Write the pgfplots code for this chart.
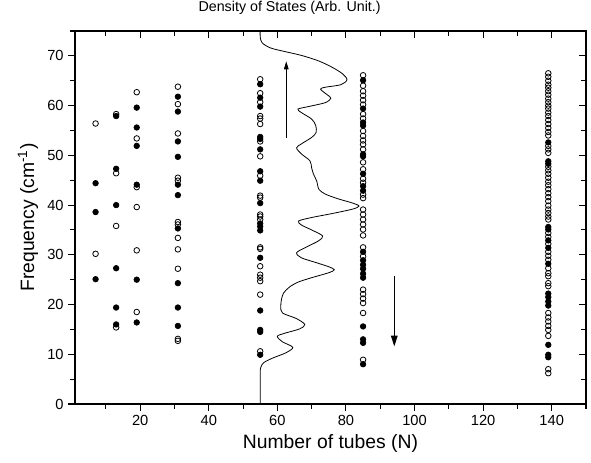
\documentclass[border=0pt]{standalone}
\usepackage{fontspec}
\setmainfont{Liberation Sans}
\usepackage{pgfplots}
\pgfplotsset{compat=1.18}
\usetikzlibrary{arrows.meta}

% frequencies of the modes, per number of tubes
\pgfplotstableread{
N f
7 44.4
7 38.6
7 25.1
13 57.9
13 47.3
13 40.0
13 27.3
13 19.4
13 16.0
19 59.6
19 55.6
19 51.9
19 44.1
19 25.0
19 16.4
31 61.8
31 58.8
31 52.8
31 49.7
31 44.1
31 42.0
31 35.3
31 24.3
31 19.4
31 15.7
55 64.3
55 61.6
55 59.8
55 53.7
55 53.3
55 51.2
55 46.8
55 44.9
55 40.4
55 36.3
55 35.7
55 34.9
55 29.4
55 18.8
55 14.9
55 14.5
55 9.9
85 65.1
85 59.4
85 56.6
85 56.0
85 50.2
85 49.8
85 46.3
85 43.8
85 42.9
85 30.6
85 28.9
85 28.0
85 27.2
85 26.2
85 25.4
85 15.6
85 13.0
85 12.3
85 8.0
139 52.6
139 48.8
139 48.3
139 35.6
139 35.1
139 32.9
139 31.4
139 28.2
139 22.2
139 21.5
139 20.6
139 19.8
139 11.9
139 9.9
139 9.4
}\filled

\pgfplotstableread{
N f
7 56.4
7 30.2
13 58.3
13 46.4
13 35.8
13 15.4
19 62.7
19 53.4
19 43.6
19 39.6
19 30.9
19 18.5
31 63.8
31 60.3
31 54.4
31 45.5
31 44.9
31 36.6
31 36.1
31 33.4
31 31.1
31 27.2
31 13.1
31 12.7
55 65.3
55 62.5
55 60.7
55 57.9
55 57.4
55 56.3
55 52.8
55 49.8
55 45.9
55 41.9
55 41.5
55 38.1
55 37.7
55 37.1
55 31.5
55 31.2
55 27.7
55 26.0
55 25.4
55 24.7
55 22.0
55 10.6
85 66.1
85 64.0
85 62.9
85 62.0
85 61.1
85 60.2
85 58.3
85 57.4
85 54.9
85 53.9
85 53.0
85 52.2
85 51.2
85 48.6
85 47.2
85 45.3
85 44.5
85 42.1
85 41.4
85 39.1
85 38.1
85 37.1
85 36.1
85 35.1
85 33.9
85 31.5
85 29.7
85 23.0
85 22.1
85 21.2
85 20.3
85 18.3
85 8.9
139 66.5
139 65.8
139 65.0
139 64.2
139 63.6
139 62.9
139 62.2
139 61.4
139 60.7
139 60.0
139 59.4
139 58.6
139 57.9
139 57.1
139 56.3
139 55.5
139 54.7
139 54.0
139 51.9
139 51.2
139 50.5
139 47.7
139 47.0
139 46.3
139 45.5
139 44.7
139 44.0
139 43.2
139 42.4
139 41.6
139 40.8
139 39.9
139 39.1
139 38.4
139 37.7
139 37.1
139 34.4
139 33.6
139 32.2
139 30.6
139 29.8
139 29.0
139 27.3
139 26.3
139 25.7
139 24.3
139 23.7
139 18.3
139 17.4
139 16.6
139 15.7
139 14.9
139 13.7
139 7.0
139 6.2
}\hollow

% density of states, baseline at N=55
\pgfplotstableread{
dos f
55 75
55 73.8
55.6 72.6
58 71.6
62 70.9
67 70.1
72 69.0
76 67.7
79 66.4
80.3 65.2
78.5 64.2
74 63.7
72.6 63.3
74.5 62.2
75.6 61.5
74 60.6
69 59.8
66 59.3
67 58.6
70 57.3
71.2 56
71.3 54.6
70 53.6
67 52.3
65.6 51.5
67 50.3
69.5 48.9
70 47.5
70.5 46.3
71.5 44.8
72.1 43.2
74 42.2
78 41.2
82 40.4
83.8 39.8
82 39.2
76 38.3
70 37.5
66.2 36.8
67 36.0
70 35.0
73.2 33.8
72 32.8
68 31.4
65.6 30.4
67 29.4
71 28.5
75 27.6
76.6 27.0
75 26.4
70 25.4
66 24.5
63.5 23.5
61.8 22.3
61.2 21
61 19.6
61.5 18.3
65.5 17.2
68 16
66.5 15.1
62 14.2
60 13.6
61.5 12.5
64.5 11.4
62.5 10.3
58.5 9.2
56 8.3
55.2 7.4
55 6.2
55 0
}\dos

\begin{document}
\begin{tikzpicture}
\useasboundingbox (-56.25pt,-43.5pt) rectangle (387pt,303pt);
\pgfplotsset{
  frame/.style={
    at={(0,0)}, anchor=south west,
    scale only axis, width=383.25pt, height=279.75pt,
    xmin=1, xmax=150, ymin=0, ymax=75,
    xtick={20,40,...,140}, minor xtick={10,30,...,150},
    ytick={0,10,...,70}, minor ytick={5,15,...,75},
    major tick length=5pt, minor tick length=3.5pt,
    tick style={black, line width=0.8pt},
    axis line style={line width=0.9pt},
  }
}
\begin{axis}[
  frame,
  xtick pos=left, ytick pos=left, tick align=outside,
  /pgf/number format/assume math mode=true,
  ticklabel style={font=\fontsize{11}{13}\selectfont},
  label style={font=\fontsize{14.5}{17}\selectfont},
  xlabel={Number of tubes (N)},
  ylabel={Frequency (cm\textsuperscript{-1})},
  title={Density of States (Arb. Unit.)},
  title style={font=\fontsize{10.7}{12}\selectfont, at={(0.42,1)}, anchor=base, yshift=9pt},
]
\addplot[smooth, line width=0.6pt] table[x=dos, y=f] {\dos};
\addplot[only marks, mark=*, mark size=2.1pt, mark options={line width=0.5pt, fill=black}] table[x=N, y=f] {\filled};
\addplot[only marks, mark=o, mark size=2.1pt, mark options={line width=0.6pt}] table[x=N, y=f] {\hollow};
\addplot[line width=0.6pt, -{Triangle[length=6pt, width=3.5pt]}] coordinates {(62.6,53.5) (62.6,68.9)};
\addplot[line width=0.6pt, -{Triangle[length=8pt, width=5pt]}] coordinates {(94.1,25.7) (94.1,11.6)};
\end{axis}
\begin{axis}[
  frame,
  xtick pos=right, ytick pos=right, tick align=inside,
  xticklabel=\empty, yticklabel=\empty,
]
\end{axis}
\end{tikzpicture}
\end{document}
